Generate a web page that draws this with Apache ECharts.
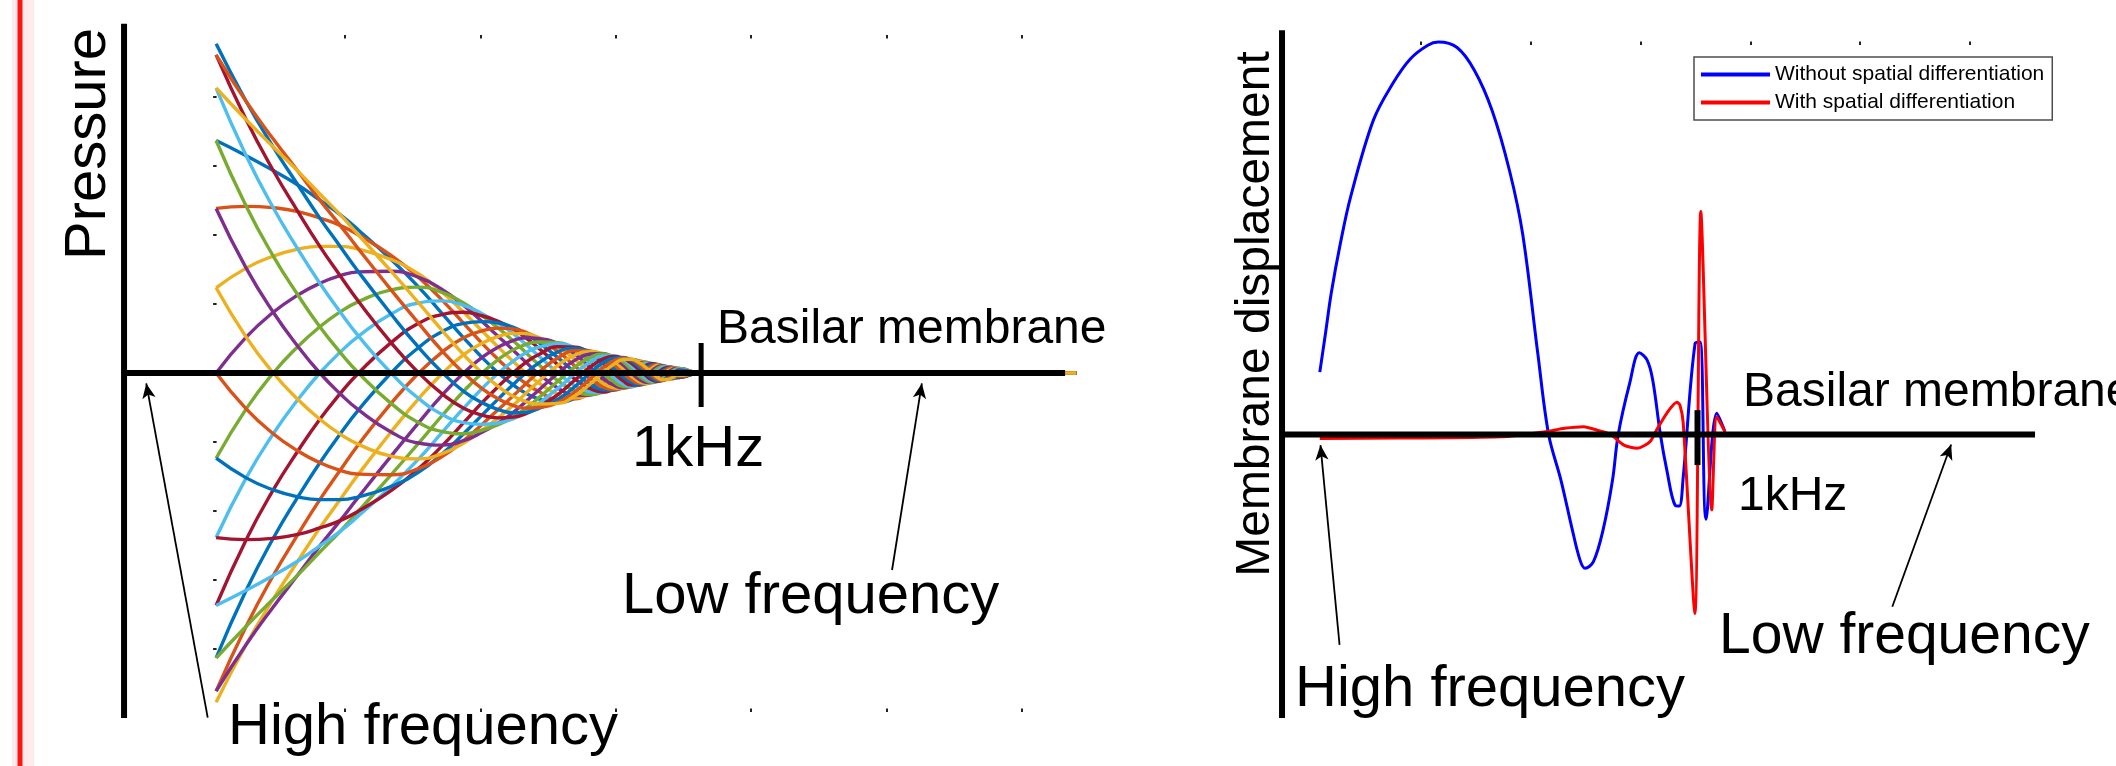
<!DOCTYPE html>
<html lang="en">
<head>
<meta charset="UTF-8">
<title>Basilar membrane travelling wave</title>
<script src="https://cdn.jsdelivr.net/npm/echarts@6.0.0/dist/echarts.min.js"></script>
<style>
    html, body { margin: 0; padding: 0; background: #fff; }
    #chart { width: 2116px; height: 766px; }
</style>
</head>
<body>
<div id="chart"></div>
<script>
    // ---------- left panel: pressure wave, one curve per phase (24 phases) ----------
    // position along the membrane (mm-like units, 0 = start of the plotted window)
    var pressureX = [0.24, 1.35, 2.35, 3.26, 4.07, 4.82, 5.50, 6.70, 7.72, 8.61, 9.38, 10.06, 10.66, 11.20,
        11.68, 12.12, 12.87, 13.51, 14.05, 14.51, 14.92, 15.27, 15.58, 15.86, 16.11, 16.34, 16.54, 16.72,
        16.89, 17.05, 17.20, 17.33, 18.11, 32.0];

    // pressure of each phase curve at those positions, in drawing order
    var pressureCurves = [
        [67.4, 63.0, 58.7, 54.5, 50.1, 45.9, 41.4, 32.9, 24.9, 17.0, 10.2, 4.5, 0, -3.4, -5.9, -7.4, -8.5, -7.2, -4.5, -1.5, 1.3, 3.2, 3.9, 3.4, 2.2, 0.7, -0.6, -1.6, -1.8, -1.6, -1.1, -0.3, 0, 0],
        [47.7, 48.3, 47.9, 46.8, 44.9, 42.8, 40.0, 34.1, 27.7, 20.9, 14.4, 8.6, 3.9, 0, -3.1, -5.2, -7.6, -7.5, -5.5, -2.9, 0, 2.3, 3.5, 3.5, 2.7, 1.4, 0, -1.1, -1.6, -1.7, -1.3, -0.7, 0, 0],
        [24.7, 30.4, 33.9, 35.9, 36.7, 36.7, 35.9, 32.9, 28.7, 23.3, 17.6, 12.2, 7.5, 3.4, 0, -2.7, -6.2, -7.2, -6.2, -4.0, -1.3, 1.2, 2.8, 3.4, 3.0, 2.0, 0.6, -0.6, -1.3, -1.6, -1.4, -0.9, 0, 0],
        [0, 10.4, 17.6, 22.6, 26.0, 28.2, 29.3, 29.5, 27.7, 24.1, 19.6, 14.9, 10.6, 6.7, 3.1, 0, -4.4, -6.5, -6.4, -4.9, -2.5, 0, 2.0, 3.0, 3.1, 2.4, 1.3, 0, -1.0, -1.5, -1.5, -1.1, 0, 0],
        [-24.7, -10.4, 0, 7.7, 13.4, 17.7, 20.7, 24.1, 24.9, 23.3, 20.3, 16.6, 13.0, 9.4, 5.9, 2.7, -2.3, -5.3, -6.2, -5.5, -3.5, -1.2, 1.0, 2.5, 3.0, 2.7, 1.8, 0.6, -0.5, -1.2, -1.4, -1.3, 0, 0],
        [-47.7, -30.4, -17.6, -7.7, 0, 6.0, 10.7, 17.1, 20.3, 20.9, 19.6, 17.2, 14.5, 11.5, 8.3, 5.2, 0, -3.8, -5.5, -5.7, -4.3, -2.3, 0, 1.8, 2.7, 2.8, 2.2, 1.1, 0, -0.9, -1.3, -1.3, 0, 0],
        [-67.4, -48.3, -33.9, -22.6, -13.4, -6.0, 0, 8.8, 14.4, 17.0, 17.6, 16.6, 15.0, 12.8, 10.2, 7.4, 2.3, -1.9, -4.5, -5.5, -4.8, -3.2, -1.0, 0.9, 2.2, 2.7, 2.4, 1.6, 0.5, -0.4, -1.1, -1.3, 0, 0],
        [-82.6, -63.0, -47.9, -35.9, -26.0, -17.7, -10.7, 0, 7.4, 12.1, 14.4, 14.9, 14.5, 13.3, 11.4, 9.0, 4.4, 0, -3.2, -4.9, -5.0, -3.9, -2.0, 0, 1.6, 2.4, 2.5, 1.9, 1.0, 0, -0.8, -1.1, 0, 0],
        [-92.2, -73.4, -58.7, -46.8, -36.7, -28.2, -20.7, -8.8, 0, 6.2, 10.2, 12.2, 13.0, 12.8, 11.8, 10.0, 6.2, 1.9, -1.7, -4.0, -4.8, -4.3, -2.8, -0.9, 0.8, 2.0, 2.4, 2.1, 1.3, 0.4, -0.4, -0.9, 0, 0],
        [-95.4, -78.7, -65.5, -54.5, -44.9, -36.7, -29.3, -17.1, -7.4, 0, 5.3, 8.6, 10.6, 11.5, 11.4, 10.4, 7.6, 3.8, 0, -2.9, -4.3, -4.5, -3.5, -1.8, 0, 1.4, 2.2, 2.2, 1.6, 0.9, 0, -0.7, 0, 0],
        [-92.2, -78.7, -67.8, -58.5, -50.1, -42.8, -35.9, -24.1, -14.4, -6.2, 0, 4.5, 7.5, 9.4, 10.2, 10.0, 8.5, 5.3, 1.7, -1.5, -3.5, -4.3, -3.9, -2.5, -0.8, 0.7, 1.8, 2.1, 1.8, 1.2, 0.4, -0.3, 0, 0],
        [-82.6, -73.4, -65.5, -58.5, -51.9, -45.9, -40.0, -29.5, -20.3, -12.1, -5.3, 0, 3.9, 6.7, 8.3, 9.0, 8.8, 6.5, 3.2, 0, -2.5, -3.9, -4.0, -3.0, -1.6, 0, 1.3, 1.9, 1.9, 1.5, 0.8, 0, 0, 0],
        [-67.4, -63.0, -58.7, -54.5, -50.1, -45.9, -41.4, -32.9, -24.9, -17.0, -10.2, -4.5, 0, 3.4, 5.9, 7.4, 8.5, 7.2, 4.5, 1.5, -1.3, -3.2, -3.9, -3.4, -2.2, -0.7, 0.6, 1.6, 1.8, 1.6, 1.1, 0.3, 0, 0],
        [-47.7, -48.3, -47.9, -46.8, -44.9, -42.8, -40.0, -34.1, -27.7, -20.9, -14.4, -8.6, -3.9, 0, 3.1, 5.2, 7.6, 7.5, 5.5, 2.9, 0, -2.3, -3.5, -3.5, -2.7, -1.4, 0, 1.1, 1.6, 1.7, 1.3, 0.7, 0, 0],
        [-24.7, -30.4, -33.9, -35.9, -36.7, -36.7, -35.9, -32.9, -28.7, -23.3, -17.6, -12.2, -7.5, -3.4, 0, 2.7, 6.2, 7.2, 6.2, 4.0, 1.3, -1.2, -2.8, -3.4, -3.0, -2.0, -0.6, 0.6, 1.3, 1.6, 1.4, 0.9, 0, 0],
        [0, -10.4, -17.6, -22.6, -26.0, -28.2, -29.3, -29.5, -27.7, -24.1, -19.6, -14.9, -10.6, -6.7, -3.1, 0, 4.4, 6.5, 6.4, 4.9, 2.5, 0, -2.0, -3.0, -3.1, -2.4, -1.3, 0, 1.0, 1.5, 1.5, 1.1, 0, 0],
        [24.7, 10.4, 0, -7.7, -13.4, -17.7, -20.7, -24.1, -24.9, -23.3, -20.3, -16.6, -13.0, -9.4, -5.9, -2.7, 2.3, 5.3, 6.2, 5.5, 3.5, 1.2, -1.0, -2.5, -3.0, -2.7, -1.8, -0.6, 0.5, 1.2, 1.4, 1.3, 0, 0],
        [47.7, 30.4, 17.6, 7.7, 0, -6.0, -10.7, -17.1, -20.3, -20.9, -19.6, -17.2, -14.5, -11.5, -8.3, -5.2, 0, 3.8, 5.5, 5.7, 4.3, 2.3, 0, -1.8, -2.7, -2.8, -2.2, -1.1, 0, 0.9, 1.3, 1.3, 0, 0],
        [67.4, 48.3, 33.9, 22.6, 13.4, 6.0, 0, -8.8, -14.4, -17.0, -17.6, -16.6, -15.0, -12.8, -10.2, -7.4, -2.3, 1.9, 4.5, 5.5, 4.8, 3.2, 1.0, -0.9, -2.2, -2.7, -2.4, -1.6, -0.5, 0.4, 1.1, 1.3, 0, 0],
        [82.6, 63.0, 47.9, 35.9, 26.0, 17.7, 10.7, 0, -7.4, -12.1, -14.4, -14.9, -14.5, -13.3, -11.4, -9.0, -4.4, 0, 3.2, 4.9, 5.0, 3.9, 2.0, 0, -1.6, -2.4, -2.5, -1.9, -1.0, 0, 0.8, 1.1, 0, 0],
        [92.2, 73.4, 58.7, 46.8, 36.7, 28.2, 20.7, 8.8, 0, -6.2, -10.2, -12.2, -13.0, -12.8, -11.8, -10.0, -6.2, -1.9, 1.7, 4.0, 4.8, 4.3, 2.8, 0.9, -0.8, -2.0, -2.4, -2.1, -1.3, -0.4, 0.4, 0.9, 0, 0],
        [95.4, 78.7, 65.5, 54.5, 44.9, 36.7, 29.3, 17.1, 7.4, 0, -5.3, -8.6, -10.6, -11.5, -11.4, -10.4, -7.6, -3.8, 0, 2.9, 4.3, 4.5, 3.5, 1.8, 0, -1.4, -2.2, -2.2, -1.6, -0.9, 0, 0.7, 0, 0],
        [92.2, 78.7, 67.8, 58.5, 50.1, 42.8, 35.9, 24.1, 14.4, 6.2, 0, -4.5, -7.5, -9.4, -10.2, -10.0, -8.5, -5.3, -1.7, 1.5, 3.5, 4.3, 3.9, 2.5, 0.8, -0.7, -1.8, -2.1, -1.8, -1.2, -0.4, 0.3, 0, 0],
        [82.6, 73.4, 65.5, 58.5, 51.9, 45.9, 40.0, 29.5, 20.3, 12.1, 5.3, 0, -3.9, -6.7, -8.3, -9.0, -8.8, -6.5, -3.2, 0, 2.5, 3.9, 4.0, 3.0, 1.6, 0, -1.3, -1.9, -1.9, -1.5, -0.8, 0, 0, 0]
    ];

    // matlab default line colour order
    var phaseColors = ['#0072BD', '#D95319', '#EDB120', '#7E2F8E', '#77AC30', '#4DBEEE', '#A2142F'];

    // ---------- right panel: membrane displacement ----------
    var blueX = [0.39, 0.66, 0.91, 1.32, 1.79, 2.83, 3.72, 4.51, 5.31, 5.79, 6.64, 7.44, 8.24, 9.03, 9.63,
        10.32, 10.81, 11.37, 11.89, 12.24, 12.47, 12.85, 13.29, 13.72, 13.98, 14.50, 14.94, 15.29, 15.55,
        15.90, 16.19, 16.57, 16.76, 16.94, 17.48, 17.71, 17.98, 18.47, 18.84];
    var blueY = [1.59, 2.62, 3.60, 4.85, 6.05, 8.01, 8.95, 9.57, 9.92, 10.0, 9.86, 9.27, 8.25, 6.72, 5.10,
        2.05, 0, -1.16, -2.43, -3.20, -3.41, -3.24, -2.43, -1.16, 0, 1.30, 2.08, 1.90, 1.39,
        0, -0.90, -1.80, -1.82, -1.08, 2.32, 2.36, -2.16, 0.54, 0.07];

    var redX = [0.39, 4.04, 8.60, 10.67, 11.54, 12.41, 13.02, 13.63, 14.24, 14.85, 15.43, 15.72, 16.19,
        16.65, 16.79, 16.94, 17.47, 17.74, 18.24, 18.47, 18.84];
    var redY = [-0.10, -0.09, -0.06, 0.07, 0.16, 0.20, 0.11, 0, -0.27, -0.35, -0.18, 0.11, 0.54,
        0.82, 0.75, 0.29, -4.56, 5.68, -1.92, 0.45, 0.07];

    var seriesNames = ['Without spatial differentiation', 'With spatial differentiation'];

    // hand drawn frame of each panel (axis bars, 1kHz mark, arrows), in data units
    var leftFrame = {
        vertical: [[-3.16, 101.2], [-3.16, -100]],
        horizontal: [[-3.16, 0], [31.59, 0]],
        mark1k: [[18.15, 8.7], [18.15, -9.86]],
        arrows: [[[-0.07, -99.9], [-2.34, -3.01]], [[25.20, -57.1], [26.30, -3.01]]]
    };
    var rightFrame = {
        vertical: [[-1.33, 10.3], [-1.33, -7.22]],
        horizontal: [[-1.33, 0], [32.96, 0]],
        mark1k: [[17.59, 0.62], [17.59, -0.78]],
        arrows: [[[1.29, -5.36], [0.42, -0.27]], [[26.46, -4.39], [29.14, -0.255]]]
    };

    var font = 'Liberation Sans, Arial, Helvetica, sans-serif';
    var boxTicks = [5, 10, 15, 20, 25, 30];

    function zip(xs, ys) {
        var out = [];
        for (var i = 0; i < xs.length; i++) {
            out.push([xs[i], ys[i]]);
        }
        return out;
    }

    // small matlab style ticks of the (otherwise invisible) axes box
    function tickAxis(grid, pos, offset, min, max, ticks) {
        return {
            type: 'value', gridIndex: grid, position: pos, offset: offset, min: min, max: max,
            axisLine: {show: false, onZero: false},
            axisLabel: {show: false},
            splitLine: {show: false},
            axisTick: {show: true, inside: true, length: 3.5, customValues: ticks,
                lineStyle: {color: '#222', width: 2}}
        };
    }

    function hiddenAxis(grid, min, max) {
        return {type: 'value', gridIndex: grid, min: min, max: max, show: false,
            axisLine: {onZero: false}};
    }

    function frameSeries(xi, yi, pts, width) {
        return {
            type: 'line', xAxisIndex: xi, yAxisIndex: yi, data: pts,
            symbol: 'none', showSymbol: false, clip: false, silent: true, z: 5,
            lineStyle: {color: '#000', width: width, cap: 'butt'}
        };
    }

    function arrowLines(arrows) {
        var data = [];
        for (var i = 0; i < arrows.length; i++) {
            data.push([{coord: arrows[i][0]}, {coord: arrows[i][1]}]);
        }
        return {
            silent: true, animation: false,
            symbol: ['none', 'arrow'], symbolSize: [10, 15],
            label: {show: false},
            lineStyle: {color: '#000', width: 1.8, type: 'solid'},
            emphasis: {disabled: true},
            data: data
        };
    }

    function label(text, x, y, size, align, rotation) {
        return {
            type: 'text', x: x, y: y, rotation: rotation || 0,
            silent: true, z: 10,
            style: {
                text: text, fill: '#000', fontSize: size, fontFamily: font,
                align: align, textAlign: align, verticalAlign: 'middle', textVerticalAlign: 'middle'
            }
        };
    }

    var series = [];
    for (var m = 0; m < pressureCurves.length; m++) {
        series.push({
            type: 'line', xAxisIndex: 0, yAxisIndex: 0,
            data: zip(pressureX, pressureCurves[m]),
            smooth: 0.5,
            symbol: 'none', showSymbol: false, clip: false, silent: true, z: 2,
            lineStyle: {color: phaseColors[m % 7], width: 3.4}
        });
    }
    series.push(frameSeries(0, 0, leftFrame.vertical, 6));
    var leftAxisX = frameSeries(0, 0, leftFrame.horizontal, 6);
    leftAxisX.markLine = arrowLines(leftFrame.arrows);
    series.push(leftAxisX);
    series.push(frameSeries(0, 0, leftFrame.mark1k, 5));

    series.push({
        name: seriesNames[0], type: 'line', xAxisIndex: 3, yAxisIndex: 2,
        data: zip(blueX, blueY), smooth: 0.35,
        symbol: 'none', showSymbol: false, clip: false, silent: true, z: 2,
        itemStyle: {color: '#0000ff'},
        lineStyle: {color: '#0000ff', width: 3}
    });
    series.push({
        name: seriesNames[1], type: 'line', xAxisIndex: 3, yAxisIndex: 2,
        data: zip(redX, redY), smooth: 0.25,
        symbol: 'none', showSymbol: false, clip: false, silent: true, z: 3,
        itemStyle: {color: '#ff0000'},
        lineStyle: {color: '#ff0000', width: 3}
    });
    series.push(frameSeries(3, 2, rightFrame.vertical, 6));
    var rightAxisX = frameSeries(3, 2, rightFrame.horizontal, 6);
    rightAxisX.markLine = arrowLines(rightFrame.arrows);
    series.push(rightAxisX);
    series.push(frameSeries(3, 2, rightFrame.mark1k, 6));

    var option = {
        animation: false,
        backgroundColor: '#fff',
        grid: [
            // left data area (wide enough to hold the hand drawn frame)
            {left: 101.3, top: 21.1, width: 974.9, height: 696.9, containLabel: false, outerBoundsMode: 'none'},
            // left axes box, only its ticks are visible
            {left: 209.6, top: 28, width: 812.4, height: 690, containLabel: false, outerBoundsMode: 'none'},
            // right data area
            {left: 1278.3, top: 22.4, width: 762.0, height: 726.1, containLabel: false, outerBoundsMode: 'none'},
            // right axes box
            {left: 1311.2, top: 41.5, width: 658.8, height: 100, containLabel: false, outerBoundsMode: 'none'}
        ],
        xAxis: [
            hiddenAxis(0, -4, 32),
            tickAxis(1, 'top', -7, 0, 30, boxTicks),
            tickAxis(1, 'bottom', -6, 0, 30, boxTicks),
            hiddenAxis(2, -1.5, 33.2),
            tickAxis(3, 'top', 0, 0, 30, boxTicks)
        ],
        yAxis: [
            hiddenAxis(0, -100, 102),
            tickAxis(1, 'left', -3.5, -100, 100, [-80, -60, -40, -20, 20, 40, 60, 80]),
            hiddenAxis(2, -8, 10.5),
            hiddenAxis(3, 0, 1)
        ],
        legend: {
            data: seriesNames,
            orient: 'vertical', left: 1694, top: 57,
            icon: 'rect', itemWidth: 69, itemHeight: 4, itemGap: 7,
            padding: [7, 8, 7, 7],
            borderColor: '#4d4d4d', borderWidth: 1.5, backgroundColor: '#fff',
            selectedMode: false,
            textStyle: {fontSize: 21, color: '#000', fontFamily: font}
        },
        graphic: [
            {type: 'rect', silent: true, shape: {x: 12, y: 0, width: 22, height: 766},
                style: {fill: 'rgba(255,0,0,0.08)'}},
            {type: 'rect', silent: true, shape: {x: 17.5, y: 0, width: 5, height: 766},
                style: {fill: '#ff1414'}},
            label('Pressure', 89, 144, 58, 'center', Math.PI / 2),
            label('Basilar membrane', 717, 330, 48, 'left'),
            label('1kHz', 632, 450, 58, 'left'),
            label('Low frequency', 622, 597, 58, 'left'),
            label('High frequency', 228, 728, 58, 'left'),
            label('Membrane displacement', 1255.5, 314, 48, 'center', Math.PI / 2),
            label('Basilar membrane', 1743, 393, 48, 'left'),
            label('1kHz', 1738, 497, 48, 'left'),
            label('Low frequency', 1719, 637, 57, 'left'),
            label('High frequency', 1295, 690, 58, 'left')
        ],
        series: series
    };

    var chart = echarts.init(document.getElementById('chart'));
    chart.setOption(option);
</script>
</body>
</html>
